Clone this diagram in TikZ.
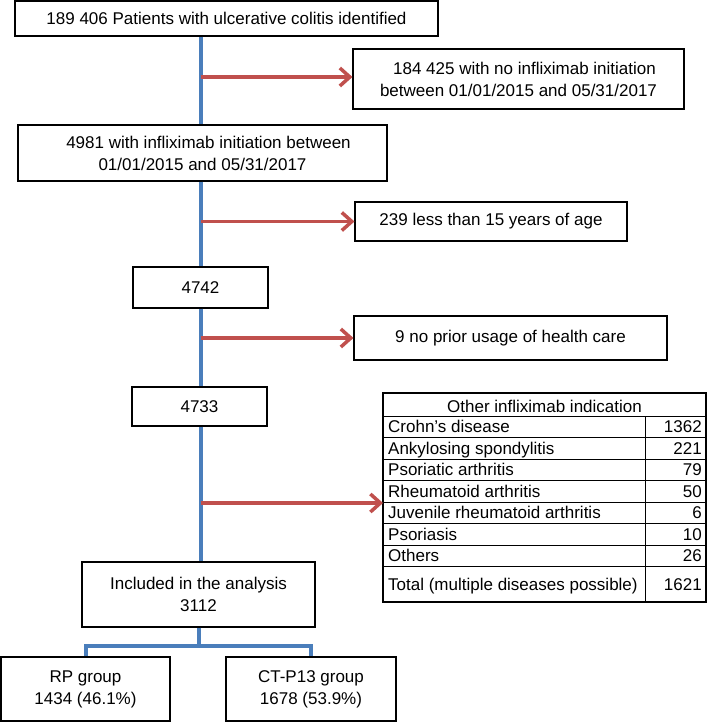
\documentclass[tikz,border=0pt]{standalone}
\usepackage{fontspec}
\setmainfont{Liberation Sans}
\usepackage{xcolor}
\usetikzlibrary{arrows.meta, positioning}
\definecolor{flowblue}{RGB}{74,126,187}
\definecolor{exclred}{RGB}{192,80,77}

\begin{document}
\begin{tikzpicture}[x=1pt, y=-1pt,
  box/.style={draw, line width=1.1pt, fill=white, align=center, inner sep=0pt, font=\fontsize{17}{22}\selectfont},
  cell/.style={inner sep=0pt, font=\fontsize{17}{22}\selectfont},
  flow/.style={draw=flowblue, line width=4pt},
  excl/.style={draw=exclred, line width=3.5pt, -{Straight Barb[length=10pt, width=18pt, line width=3.5pt]}}
]
% Define constants
\def\rowh{21.5}
\def\tabtop{416}

\useasboundingbox (0,0) rectangle (709,722);

% Draw the main boxes
\node[box, minimum width=423, minimum height=35] (start) at (226.5,18.5) {189 406 Patients with ulcerative colitis identified};
\node[box, minimum width=369, minimum height=56] (infl) at (202.5,153) {\hspace*{12pt}4981 with infliximab initiation between\\01/01/2015 and 05/31/2017};
\node[box, minimum width=135, minimum height=41] (n4742) at (200.5,287.5) {4742};
\node[box, minimum width=135, minimum height=39] (n4733) at (199.5,406.5) {4733};
\node[box, minimum width=233, minimum height=65] (incl) at (198.5,594.5) {Included in the analysis\\3112};
\node[box, minimum width=169, minimum height=64] (rp) at (85.5,689) {RP group\\1434 (46.1\%)};
\node[box, minimum width=170, minimum height=64] (ctp) at (311,689) {CT-P13 group\\1678 (53.9\%)};

% Draw the exclusion boxes
\node[box, minimum width=331, minimum height=60] (noinit) at (518.5,79) {\hspace*{12pt}184 425 with no infliximab initiation\\between 01/01/2015 and 05/31/2017};
\node[box, minimum width=272, minimum height=39] (age) at (491,221.5) {239 less than 15 years of age};
\node[box, minimum width=313, minimum height=44] (care) at (510.5,338) {9 no prior usage of health care};

% Draw the indication table
\node[draw, line width=1.1pt, minimum width=323, minimum height=209, inner sep=0pt] (tbl) at (544.5,497.5) {};
\node[cell, anchor=base] (tblhead) at (544.5,412) {Other infliximab indication};
\draw[line width=0.9pt] (383,\tabtop) -- (706,\tabtop);
\draw[line width=0.9pt] (645,\tabtop) -- (645,602);
\foreach \name/\num [count=\i from 0] in {Crohn’s disease/1362, Ankylosing spondylitis/221, Psoriatic arthritis/79, Rheumatoid arthritis/50, Juvenile rheumatoid arthritis/6, Psoriasis/10, Others/26}{
  \pgfmathsetmacro{\rowtop}{\tabtop+\rowh*\i}
  \node[cell, anchor=base west] (row\i) at (388,\rowtop+16.75) {\name};
  \node[cell, anchor=base east] (num\i) at (702,\rowtop+16.75) {\num};
  \draw[line width=0.9pt] (383,\rowtop+\rowh) -- (706,\rowtop+\rowh);
}
\node[cell, anchor=base west] (rowtot) at (388,590.5) {Total (multiple diseases possible)};
\node[cell, anchor=base east] (numtot) at (702,590.5) {1621};
\coordinate (tblin) at (383,503);

% Draw the patient flow
\draw[flow] (n4742 |- start.south) -- (n4742 |- infl.north);
\draw[flow] (n4742 |- infl.south) -- (n4742.north);
\draw[flow] (n4742.south) -- (n4742 |- n4733.north);
\draw[flow] (n4742 |- n4733.south) -- (n4742 |- incl.north);
\draw[flow] (incl.south) -- ++(0,18) -| (rp.north);
\draw[flow] (incl.south) -- ++(0,18) -| (ctp.north);

% Draw the exclusions
\draw[excl] (n4742 |- 0,77) -- (noinit.west |- 0,77);
\draw[excl] (n4742 |- age.west) -- (age.west);
\draw[excl] (n4742 |- care.west) -- (care.west);
\draw[excl] (n4742 |- tblin) -- (tblin);

\end{tikzpicture}
\end{document}
